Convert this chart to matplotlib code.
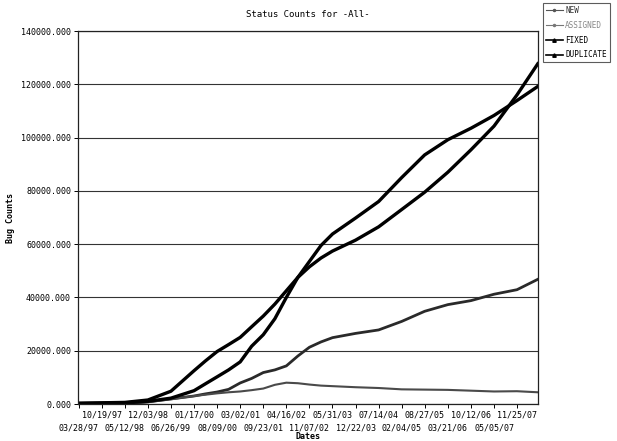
import numpy as np
import pandas as pd
import matplotlib
matplotlib.use("Agg")
import matplotlib.pyplot as plt
from matplotlib.lines import Line2D

# Sample dates
dates = pd.to_datetime([
    '1997-03-28', '1997-10-19', '1998-05-12', '1998-12-03', '1999-06-26',
    '2000-01-17', '2000-04-28', '2000-08-09', '2000-11-19', '2001-03-02',
    '2001-06-12', '2001-09-23', '2002-01-04', '2002-04-16', '2002-07-27',
    '2002-11-07', '2003-02-18', '2003-05-31', '2003-12-22', '2004-07-14',
    '2005-02-04', '2005-08-27', '2006-03-21', '2006-10-12', '2007-05-05',
    '2007-11-25', '2008-05-28'])

new_counts = [100, 150, 250, 800, 1900, 3000, 3800, 4500, 5500, 7900,
              9600, 11800, 12800, 14300, 18000, 21300, 23300, 24900, 26500, 27800,
              31000, 34800, 37300, 38800, 41200, 42900, 46800]
assigned_counts = [100, 120, 200, 700, 1800, 3000, 3500, 4000, 4400, 4700,
                   5200, 5800, 7200, 8000, 7800, 7300, 6900, 6700, 6300, 6000,
                   5500, 5400, 5300, 5000, 4700, 4800, 4400]
fixed_counts = [300, 450, 600, 1500, 4800, 12500, 16200, 19700, 22300, 25000,
                29000, 33000, 37500, 42500, 47500, 51500, 54800, 57400, 61500, 66500,
                73000, 79500, 87000, 95400, 104300, 116000, 127700]
duplicate_counts = [200, 300, 400, 1000, 2200, 5000, 7600, 10200, 12800, 15800,
                    21700, 26000, 32000, 40000, 47500, 53500, 59500, 63800, 69800, 76000,
                    85000, 93500, 99200, 103500, 108300, 113900, 119200]

tick_dates = pd.to_datetime([
    '1997-03-28', '1997-10-19', '1998-05-12', '1998-12-03', '1999-06-26',
    '2000-01-17', '2000-08-09', '2001-03-02', '2001-09-23', '2002-04-16',
    '2002-11-07', '2003-05-31', '2003-12-22', '2004-07-14', '2005-02-04',
    '2005-08-27', '2006-03-21', '2006-10-12', '2007-05-05', '2007-11-25'])

mono = 'DejaVu Sans Mono'

fig = plt.figure(figsize=(6.17, 4.41), dpi=100)
ax = fig.add_axes([0.1264, 0.0839, 0.7456, 0.8458])

ax.plot(dates, new_counts, color='#2a2a2a', lw=2.0)
ax.plot(dates, assigned_counts, color='#4a4a4a', lw=1.5)
ax.plot(dates, fixed_counts, color='black', lw=2.4)
ax.plot(dates, duplicate_counts, color='black', lw=2.4)

ax.set_xlim(pd.Timestamp('1997-03-22'), pd.Timestamp('2008-05-30'))
ax.set_ylim(0, 140000)
ax.set_yticks(np.arange(0, 140001, 20000))
ax.set_yticklabels(['%.3f' % v for v in np.arange(0, 140001, 20000)],
                   fontsize=6, family=mono)
ax.yaxis.grid(True, color='#333333', lw=0.8)
ax.set_axisbelow(True)

# staggered date labels: even ticks on the lower row (major), odd on the upper row (minor)
labels = [d.strftime('%m/%d/%y') for d in tick_dates]
ax.set_xticks(tick_dates[0::2])
ax.set_xticklabels(labels[0::2], fontsize=6, family=mono)
ax.set_xticks(tick_dates[1::2], minor=True)
ax.set_xticklabels(labels[1::2], minor=True, fontsize=6, family=mono)
ax.tick_params(axis='x', which='major', length=3, width=0.7, pad=11)
ax.tick_params(axis='x', which='minor', length=3, width=0.7, pad=2)
ax.tick_params(axis='y', length=3, width=0.7, pad=2)

for sp in ax.spines.values():
    sp.set_linewidth(0.9)
    sp.set_color('#222222')

ax.set_title('Status Counts for -All-', fontsize=6.5, family=mono, pad=10)
ax.set_ylabel('Bug Counts', fontsize=6, family=mono, fontweight='bold', labelpad=4)
ax.set_xlabel('Dates', fontsize=6, family=mono, fontweight='bold', labelpad=0)

handles = [
    Line2D([], [], color='#555555', lw=0.8, marker='.', markersize=3),
    Line2D([], [], color='#777777', lw=0.8, marker='.', markersize=3),
    Line2D([], [], color='black', lw=1.2, marker='^', markersize=2.5),
    Line2D([], [], color='black', lw=1.2, marker='^', markersize=2.5),
]
leg = fig.legend(handles, ['NEW', 'ASSIGNED', 'FIXED', 'DUPLICATE'],
                 loc='upper left', bbox_to_anchor=(543 / 617, 1 - 3 / 441),
                 prop={'family': mono, 'size': 5.5}, frameon=True, fancybox=False,
                 handlelength=2.2, handletextpad=0.3, borderpad=0.4,
                 labelspacing=0.75, borderaxespad=0)
leg.get_frame().set_edgecolor('#333333')
leg.get_frame().set_linewidth(0.8)
for t, c in zip(leg.get_texts(), ['#333333', '#888888', 'black', 'black']):
    t.set_color(c)

fig.savefig('out.png', dpi=100)
